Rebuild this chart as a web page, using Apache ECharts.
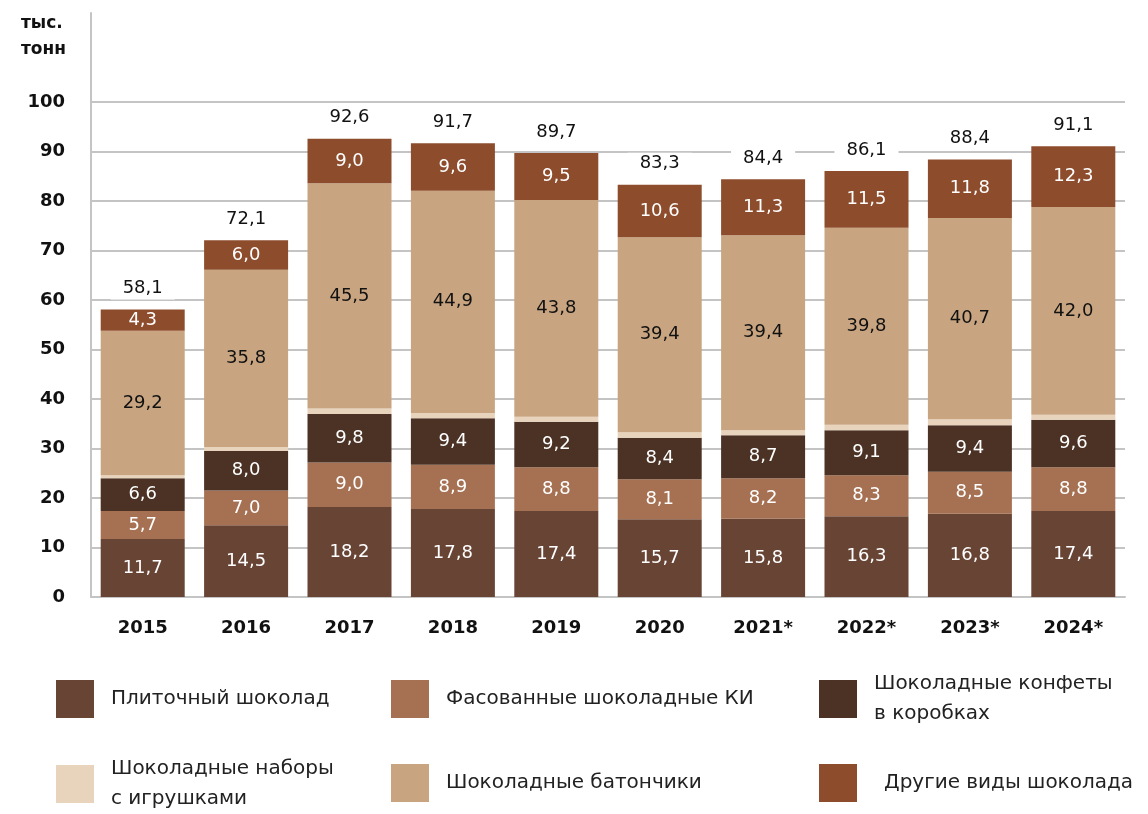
<!DOCTYPE html>
<html>
<head>
<meta charset="utf-8">
<script src="https://cdn.jsdelivr.net/npm/echarts@6/dist/echarts.min.js"></script>
<style>
  html, body { margin: 0; padding: 0; background: #ffffff; }
  #chart { width: 1148px; height: 814px; }
</style>
</head>
<body>
<div id="chart"></div>
<script>
// Production of chocolate products by type, thousand tonnes
const years = ['2015', '2016', '2017', '2018', '2019', '2020', '2021*', '2022*', '2023*', '2024*'];
const tablets   = [11.7, 14.5, 18.2, 17.8, 17.4, 15.7, 15.8, 16.3, 16.8, 17.4];
const packedKI  = [5.7, 7.0, 9.0, 8.9, 8.8, 8.1, 8.2, 8.3, 8.5, 8.8];
const boxed     = [6.6, 8.0, 9.8, 9.4, 9.2, 8.4, 8.7, 9.1, 9.4, 9.6];
const toySets   = [0.6, 0.8, 1.1, 1.1, 1.0, 1.1, 1.0, 1.1, 1.2, 1.0];
const bars      = [29.2, 35.8, 45.5, 44.9, 43.8, 39.4, 39.4, 39.8, 40.7, 42.0];
const other     = [4.3, 6.0, 9.0, 9.6, 9.5, 10.6, 11.3, 11.5, 11.8, 12.3];
const totals    = [58.1, 72.1, 92.6, 91.7, 89.7, 83.3, 84.4, 86.1, 88.4, 91.1];

const FONT = '"DejaVu Sans", "Open Sans", sans-serif';
const fmt = v => v.toFixed(1).replace('.', ',');

const seriesDefs = [
  { name: 'Плиточный шоколад',              data: tablets,  color: '#684435', label: '#ffffff' },
  { name: 'Фасованные шоколадные КИ',        data: packedKI, color: '#A67052', label: '#ffffff' },
  { name: 'Шоколадные конфеты\nв коробках',  data: boxed,    color: '#4B3224', label: '#ffffff' },
  { name: 'Шоколадные наборы\nс игрушками',  data: toySets,  color: '#E8D4BC', label: null },
  { name: 'Шоколадные батончики',            data: bars,     color: '#C8A580', label: '#111111' },
  { name: 'Другие виды шоколада',            data: other,    color: '#8D4C2C', label: '#ffffff' }
];

const series = seriesDefs.map(d => ({
  name: d.name,
  type: 'bar',
  stack: 'total',
  barWidth: 84,
  data: d.data,
  itemStyle: { color: d.color },
  label: d.label ? {
    show: true,
    position: 'inside',
    color: d.label,
    fontFamily: FONT,
    fontSize: 18,
    formatter: p => fmt(p.value)
  } : { show: false },
  emphasis: { disabled: true }
}));

// zero-height cap that carries the total above each stack
series.push({
  name: 'total',
  type: 'bar',
  stack: 'total',
  barWidth: 84,
  data: totals.map(() => 0),
  itemStyle: { color: 'transparent' },
  label: {
    show: true,
    position: 'top',
    distance: 10,
    color: '#111111',
    fontFamily: FONT,
    fontSize: 18,
    backgroundColor: '#ffffff',
    padding: [2, 12, 2, 12],
    formatter: p => fmt(totals[p.dataIndex])
  },
  emphasis: { disabled: true }
});

// legend layout: three columns, two rows (two-line entries start higher)
const legendPos = [
  { left: 56,  top: 680, padTop: 0 },
  { left: 391, top: 680, padTop: 0 },
  { left: 819, top: 665, padTop: 8 },
  { left: 56,  top: 751, padTop: 6 },
  { left: 391, top: 764, padTop: 0 },
  { left: 819, top: 764, padTop: 0 }
];
const legends = seriesDefs.map((d, i) => ({
  left: legendPos[i].left,
  top: legendPos[i].top,
  padding: 0,
  data: [d.name],
  selectedMode: false,
  itemWidth: 38,
  itemHeight: 38,
  icon: 'rect',
  textStyle: {
    fontFamily: FONT,
    fontSize: 20,
    color: '#222222',
    lineHeight: 30,
    padding: [legendPos[i].padTop, 0, 0, i === 5 ? 22 : 12]
  }
}));

const gridGray = '#c4c4c4';
const splitColors = [];
for (let i = 0; i <= 10; i++) splitColors.push(gridGray);
splitColors.push('rgba(0,0,0,0)', 'rgba(0,0,0,0)');

const chart = echarts.init(document.getElementById('chart'), null, { renderer: 'canvas' });
chart.setOption({
  animation: false,
  backgroundColor: '#ffffff',
  grid: { left: 91, right: 23, top: 13, bottom: 217 },
  legend: legends,
  xAxis: {
    type: 'category',
    data: years,
    axisLine: { show: true, lineStyle: { color: gridGray, width: 2 } },
    axisTick: { show: false },
    axisLabel: {
      margin: 22,
      color: '#111111',
      fontFamily: FONT,
      fontWeight: 'bold',
      fontSize: 18
    }
  },
  yAxis: {
    type: 'value',
    min: 0,
    max: 118,
    interval: 10,
    axisLine: { show: true, lineStyle: { color: gridGray, width: 2 } },
    axisTick: { show: false },
    splitLine: { show: true, lineStyle: { color: splitColors, width: 2 } },
    axisLabel: {
      margin: 26,
      color: '#111111',
      fontFamily: FONT,
      fontWeight: 'bold',
      fontSize: 18,
      formatter: v => (v <= 100 ? String(v) : '')
    }
  },
  graphic: [{
    type: 'text',
    right: 1148 - 66,
    top: 11,
    style: {
      text: 'тыс.\nтонн',
      fontFamily: FONT,
      fontWeight: 'bold',
      fontSize: 17,
      lineHeight: 26,
      fill: '#111111',
      align: 'right'
    }
  }],
  series: series
});
</script>
</body>
</html>
